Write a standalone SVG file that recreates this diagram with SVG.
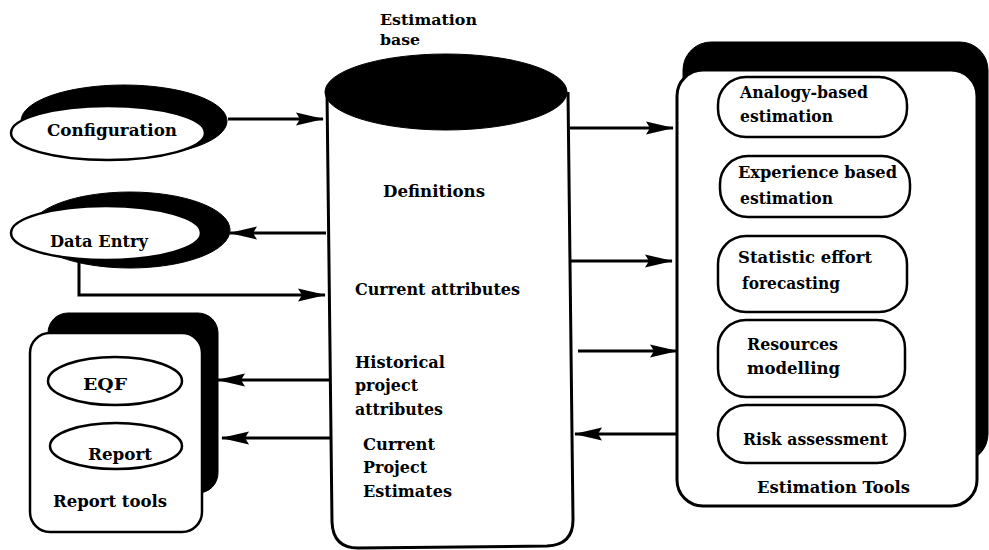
<svg xmlns="http://www.w3.org/2000/svg" width="989" height="550" viewBox="0 0 989 550">
<defs>
<style>
text{font-family:"DejaVu Serif","Liberation Serif",serif;font-weight:bold;font-size:16px;fill:#000}
.t{font-size:14.5px}
.w{fill:#fff;stroke:#000;stroke-width:2.5}
.b{fill:#000;stroke:#000;stroke-width:1}
.c{fill:none;stroke:#000;stroke-width:3}
</style>
<marker id="ah" viewBox="0 0 28 14" markerWidth="28" markerHeight="14" refX="27" refY="7" orient="auto" markerUnits="userSpaceOnUse">
<path d="M0,0.5 L28,7 L0,13.5 L4,7 z" fill="#000"/>
</marker>
</defs>
<rect width="989" height="550" fill="#fff"/>

<g id="configuration">
<ellipse class="b" cx="124" cy="121" rx="103" ry="36"/>
<ellipse class="w" cx="108" cy="133" rx="97" ry="27"/>
<text x="47" y="136" textLength="130" lengthAdjust="spacingAndGlyphs">Configuration</text>
</g>

<g id="data-entry">
<ellipse class="b" cx="130" cy="230" rx="100" ry="38"/>
<ellipse class="w" cx="106" cy="233" rx="95" ry="27"/>
<text x="50" y="247" textLength="98" lengthAdjust="spacingAndGlyphs">Data Entry</text>
</g>

<g id="report-tools">
<rect class="b" x="48" y="313" width="170" height="180" rx="20"/>
<rect class="w" x="30" y="333" width="172" height="199" rx="20"/>
<ellipse class="w" cx="115" cy="381" rx="67" ry="24"/>
<text x="83" y="390" textLength="44" lengthAdjust="spacingAndGlyphs">EQF</text>
<ellipse class="w" cx="116" cy="446" rx="66" ry="23"/>
<text x="88" y="460" textLength="64" lengthAdjust="spacingAndGlyphs">Report</text>
<text x="53" y="507" textLength="114" lengthAdjust="spacingAndGlyphs">Report tools</text>
</g>

<g id="estimation-base">
<text class="t" x="380" y="25" textLength="97" lengthAdjust="spacingAndGlyphs">Estimation</text>
<text class="t" x="380" y="45" textLength="40" lengthAdjust="spacingAndGlyphs">base</text>
<path class="w" d="M327 92 L332 522 Q333 548 358 548 L547 546 Q573 545 573 520 L568 92" style="stroke-width:3"/>
<ellipse class="b" cx="446" cy="92" rx="121" ry="38"/>
<text x="383" y="197" textLength="102" lengthAdjust="spacingAndGlyphs">Definitions</text>
<text x="355" y="295" textLength="165" lengthAdjust="spacingAndGlyphs">Current attributes</text>
<text x="355" y="368" textLength="90" lengthAdjust="spacingAndGlyphs">Historical</text>
<text x="355" y="391" textLength="63" lengthAdjust="spacingAndGlyphs">project</text>
<text x="355" y="415" textLength="88" lengthAdjust="spacingAndGlyphs">attributes</text>
<text x="363" y="450" textLength="72" lengthAdjust="spacingAndGlyphs">Current</text>
<text x="363" y="473" textLength="64" lengthAdjust="spacingAndGlyphs">Project</text>
<text x="363" y="497" textLength="89" lengthAdjust="spacingAndGlyphs">Estimates</text>
</g>

<g id="estimation-tools">
<rect class="b" x="683" y="42" width="305" height="420" rx="28"/>
<rect class="w" x="677" y="70" width="300" height="436" rx="26" style="stroke-width:3"/>
<text x="757" y="493" textLength="153" lengthAdjust="spacingAndGlyphs">Estimation Tools</text>
</g>

<g id="analogy">
<rect class="w" x="718" y="77" width="189" height="60" rx="28"/>
<text x="740" y="98" textLength="128" lengthAdjust="spacingAndGlyphs">Analogy-based</text>
<text x="740" y="122" textLength="93" lengthAdjust="spacingAndGlyphs">estimation</text>
</g>

<g id="experience">
<rect class="w" x="720" y="156" width="190" height="61" rx="28"/>
<text x="738" y="178" textLength="159" lengthAdjust="spacingAndGlyphs">Experience based</text>
<text x="740" y="204" textLength="93" lengthAdjust="spacingAndGlyphs">estimation</text>
</g>

<g id="statistic">
<rect class="w" x="718" y="236" width="189" height="76" rx="28"/>
<text x="738" y="263" textLength="134" lengthAdjust="spacingAndGlyphs">Statistic effort</text>
<text x="742" y="289" textLength="98" lengthAdjust="spacingAndGlyphs">forecasting</text>
</g>

<g id="resources">
<rect class="w" x="718" y="320" width="187" height="77" rx="28"/>
<text x="747" y="350" textLength="91" lengthAdjust="spacingAndGlyphs">Resources</text>
<text x="747" y="374" textLength="93" lengthAdjust="spacingAndGlyphs">modelling</text>
</g>

<g id="risk">
<rect class="w" x="718" y="405" width="187" height="58" rx="28"/>
<text x="743" y="445" textLength="145" lengthAdjust="spacingAndGlyphs">Risk assessment</text>
</g>

<g id="connectors">
<line class="c" x1="228" y1="119" x2="323" y2="119" marker-end="url(#ah)"/>
<line class="c" x1="326" y1="233" x2="230" y2="233" marker-end="url(#ah)"/>
<polyline class="c" points="79,262 79,295 325,295" marker-end="url(#ah)"/>
<line class="c" x1="329" y1="380" x2="218" y2="380" marker-end="url(#ah)"/>
<line class="c" x1="331" y1="438" x2="222" y2="438" marker-end="url(#ah)"/>
<line class="c" x1="570" y1="128" x2="673" y2="128" marker-end="url(#ah)"/>
<line class="c" x1="570" y1="261" x2="672" y2="261" marker-end="url(#ah)"/>
<line class="c" x1="578" y1="351" x2="677" y2="351" marker-end="url(#ah)"/>
<line class="c" x1="677" y1="434" x2="575" y2="434" marker-end="url(#ah)"/>
</g>
</svg>
